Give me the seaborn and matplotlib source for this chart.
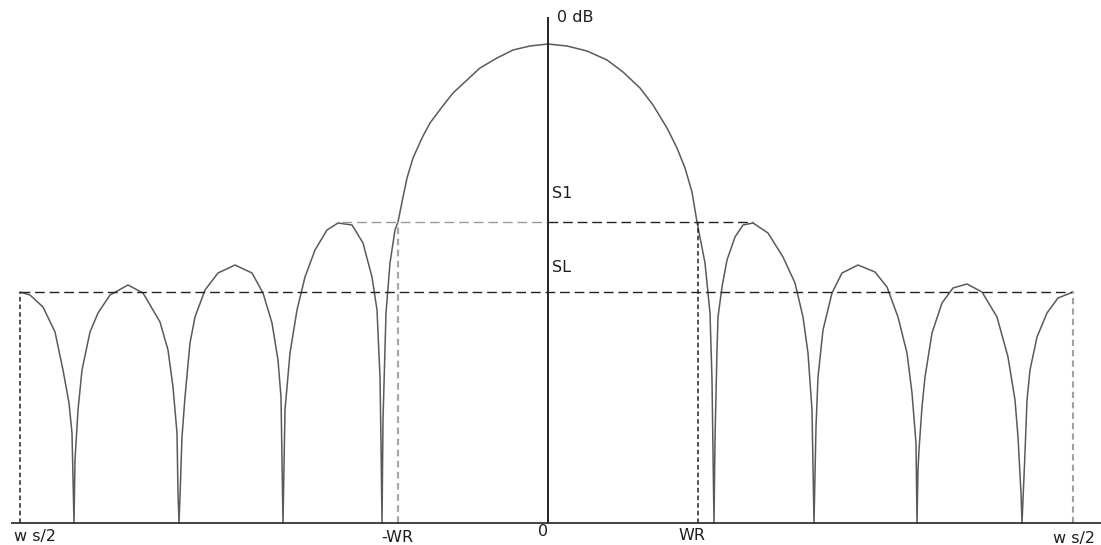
import matplotlib
matplotlib.use("Agg")
import matplotlib.pyplot as plt
import seaborn as sns
import pandas as pd

# frequency axis: 0 at centre, ws/2 at about +-527 ; level: 0 at the bottom, 0 dB at 506
# every lobe, null to null
half_left_x = [-528, -518, -505, -493, -485, -479, -476, -475, -474]
half_left_y = [231, 228, 216, 191, 153, 120, 90, 43, 0]

lobe_l4_x = [-473, -470, -466, -458, -450, -438, -420, -405, -388, -380, -375, -371, -370, -369]
lobe_l4_y = [63, 113, 153, 191, 210, 228, 238, 230, 201, 173, 136, 90, 30, 0]

lobe_l3_x = [-368, -366, -363, -358, -353, -343, -330, -313, -296, -285, -276, -270, -267, -266, -265]
lobe_l3_y = [26, 86, 126, 180, 206, 233, 250, 258, 250, 230, 200, 163, 126, 63, 0]

lobe_l2_x = [-263, -258, -251, -243, -233, -221, -210, -196, -185, -176, -171, -168, -167, -166]
lobe_l2_y = [113, 170, 213, 246, 273, 293, 300, 298, 280, 246, 213, 146, 80, 0]

main_x = [-165, -162, -158, -153, -150, -146, -141, -135, -126, -118, -106, -95, -81, -68,
          -51, -35, -18, 0, 19, 39, 59, 75, 92, 105, 119, 129, 137, 144, 149,
          157, 162, 164, 165, 166]
main_y = [103, 210, 260, 293, 301, 321, 345, 365, 385, 400, 416, 430, 443, 455,
          465, 473, 477, 479, 477, 472, 463, 451, 435, 418, 395, 375, 355, 331, 301,
          260, 210, 143, 73, 0]

lobe_r1_x = [167, 169, 170, 174, 179, 187, 195, 205, 220, 235, 247, 255, 260, 264, 266]
lobe_r1_y = [83, 173, 206, 236, 263, 286, 298, 300, 290, 266, 240, 206, 170, 113, 0]

lobe_r2_x = [268, 270, 275, 284, 294, 310, 327, 339, 350, 359, 364, 368, 369]
lobe_r2_y = [96, 146, 193, 230, 250, 258, 251, 236, 206, 170, 130, 80, 0]

lobe_r3_x = [370, 371, 374, 377, 384, 394, 405, 419, 434, 449, 460, 467, 470, 473, 474]
lobe_r3_y = [53, 73, 116, 146, 190, 220, 235, 239, 231, 206, 166, 123, 86, 30, 0]

half_right_x = [477, 479, 482, 489, 499, 510, 525]
half_right_y = [70, 123, 153, 186, 210, 225, 231]

# reference levels and marks
level_s1 = 301
level_sl = 231
top_0db = 506
wr = 150
ws_half_left = -528
ws_half_right = 525
s1_start = -206
s1_end = 205

curve = pd.DataFrame({
    "f": half_left_x + lobe_l4_x + lobe_l3_x + lobe_l2_x + main_x
         + lobe_r1_x + lobe_r2_x + lobe_r3_x + half_right_x,
    "level": half_left_y + lobe_l4_y + lobe_l3_y + lobe_l2_y + main_y
             + lobe_r1_y + lobe_r2_y + lobe_r3_y + half_right_y,
})

sns.set_style("white")
plt.rcParams["font.family"] = ["DejaVu Sans"]

fig = plt.figure(figsize=(11.01, 5.45), dpi=100)
ax = fig.add_axes([0, 0, 1, 1])

sns.lineplot(data=curve, x="f", y="level", sort=False, estimator=None,
             color="#5a5a5a", lw=1.1, ax=ax)

dash = (0, (7, 3.5))
short = (0, (3, 2))
ax.hlines(level_sl, ws_half_left, ws_half_right, colors="#222222", lw=1, linestyles=[dash])
ax.hlines(level_s1, s1_start, 0, colors="#9a9a9a", lw=1, linestyles=[dash])
ax.hlines(level_s1, 0, s1_end, colors="#222222", lw=1, linestyles=[dash])
ax.vlines(ws_half_left, 0, level_sl, colors="#222222", lw=1.1, linestyles=[short])
ax.vlines(ws_half_right, 0, level_sl, colors="#a0a0a0", lw=1.5, linestyles=[short])
ax.vlines(-wr, 0, level_s1, colors="#a8a8a8", lw=1.6, linestyles=[short])
ax.vlines(wr, 0, level_s1, colors="#222222", lw=1.1, linestyles=[short])

# axes drawn by hand, as in the sketch
ax.vlines(0, 0, top_0db, colors="#222222", lw=1.4)
ax.hlines(0, -537, 553, colors="#222222", lw=1.2)

txt = dict(fontsize=11.5, color="#1e1e1e")
ax.text(9, top_0db, "0 dB", ha="left", va="center", **txt)
ax.text(4, 330, "S1", ha="left", va="center", **txt)
ax.text(4, 256, "SL", ha="left", va="center", **txt)
ax.text(-513, -14, "w s/2", ha="center", va="center", **txt)
ax.text(-151, -14, "-WR", ha="center", va="center", **txt)
ax.text(-5, -9, "0", ha="center", va="center", **txt)
ax.text(144, -13, "WR", ha="center", va="center", **txt)
ax.text(547, -15, "w s/2", ha="right", va="center", **txt)

ax.set_xlim(-548, 553)
ax.set_ylim(-22, 523)
ax.axis("off")

fig.savefig("out.png", dpi=100)
